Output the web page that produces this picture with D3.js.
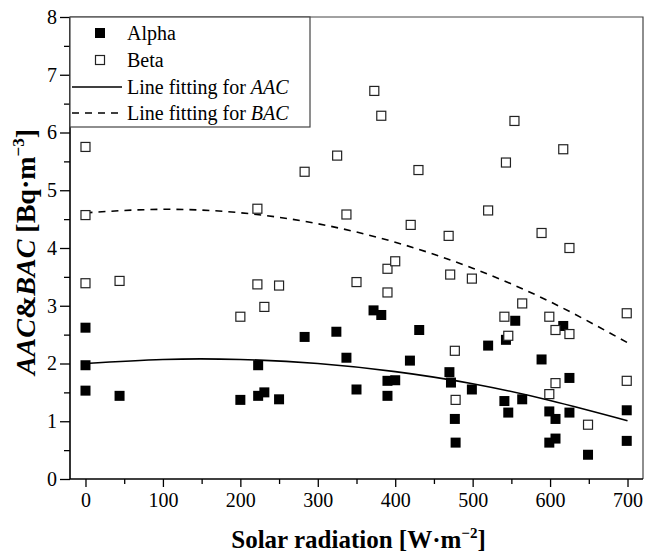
<!DOCTYPE html>
<html>
<head>
<meta charset="utf-8">
<script src="https://cdn.jsdelivr.net/npm/d3@7"></script>
<style>
  body { margin: 0; background: #fff; }
</style>
</head>
<body>
<div id="chart"></div>
<script>
/* DATA */
const alphaX = [0, 0, 0, 44, 200, 223, 223, 231, 250, 283, 324, 337, 350, 372, 382, 390, 400, 390, 419, 431,
  470, 472, 477, 478, 499, 520, 541, 543, 546, 555, 564, 589, 599, 599, 607, 607, 617, 625, 625, 649, 699, 699];
const alphaY = [2.62, 1.97, 1.53, 1.44, 1.37, 1.97, 1.44, 1.50, 1.38, 2.46, 2.55, 2.10, 1.55, 2.92, 2.84, 1.70, 1.71, 1.44, 2.05, 2.58,
  1.85, 1.67, 1.04, 0.63, 1.55, 2.31, 1.35, 2.41, 1.15, 2.74, 1.38, 2.07, 1.17, 0.63, 1.04, 0.70, 2.65, 1.75, 1.15, 0.42, 1.19, 0.66];

const betaX = [0, 0, 0, 44, 200, 222, 222, 231, 250, 283, 325, 337, 350, 373, 382, 390, 390, 400, 420, 430,
  469, 471, 477, 478, 499, 520, 541, 543, 546, 554, 564, 589, 599, 599, 607, 607, 617, 625, 625, 649, 699, 699];
const betaY = [5.75, 4.57, 3.39, 3.43, 2.81, 4.68, 3.37, 2.98, 3.35, 5.32, 5.60, 4.58, 3.41, 6.72, 6.29, 3.64, 3.23, 3.77, 4.40, 5.35,
  4.21, 3.54, 2.22, 1.37, 3.47, 4.65, 2.81, 5.48, 2.48, 6.20, 3.04, 4.26, 2.81, 1.47, 2.58, 1.66, 5.71, 4.00, 2.51, 0.94, 2.87, 1.70];

// fitted curves, every 100 W/m2
const fitX = [0, 100, 200, 300, 400, 500, 600, 700];
const fitAAC = [2.00, 2.07, 2.07, 2.00, 1.86, 1.65, 1.36, 1.01];
const fitBAC = [4.61, 4.67, 4.61, 4.42, 4.10, 3.65, 3.07, 2.36];

const xTicks = [0, 100, 200, 300, 400, 500, 600, 700];
const yTicks = [0, 1, 2, 3, 4, 5, 6, 7, 8];
const legendItems = ["Alpha", "Beta", "Line fitting for ", "Line fitting for "];
const legendItalic = ["", "", "AAC", "BAC"];

const FONT = "'Liberation Serif', 'Times New Roman', Times, 'DejaVu Serif', serif";

/* LAYOUT */
const width = 646, height = 554;
const margin = { top: 17, right: 3, bottom: 75, left: 70 };

const svg = d3.select("#chart").append("svg")
  .attr("width", width)
  .attr("height", height)
  .attr("font-family", FONT);

const xScale = d3.scaleLinear()
  .domain([-20, 720])
  .range([margin.left, width - margin.right]);

const yScale = d3.scaleLinear()
  .domain([0, 8])
  .range([479, margin.top]);

const x0 = margin.left, x1 = width - margin.right;
const yb = yScale(0), yt = yScale(8);

// frame top / right
svg.append("path")
  .attr("d", `M${x0},${yt}H${x1}V${yb}`)
  .attr("fill", "none")
  .attr("stroke", "#444")
  .attr("stroke-width", 1.2);

// axes
const xAxis = d3.axisBottom(xScale).tickValues(xTicks).tickSize(8).tickPadding(6).tickFormat(d3.format("d"));
const xMinor = d3.axisBottom(xScale).tickValues(d3.range(50, 750, 100)).tickSize(5).tickFormat("");
const yAxis = d3.axisLeft(yScale).tickValues(yTicks).tickSize(10).tickPadding(3);
const yMinor = d3.axisLeft(yScale).tickValues(d3.range(0.5, 8, 1)).tickSize(6).tickFormat("");

function styleAxis(g) {
  g.attr("font-family", FONT);
  g.select(".domain").remove();
  g.selectAll("line").attr("stroke", "#000").attr("stroke-width", 1.3);
  g.selectAll("text").attr("font-size", 20).attr("fill", "#000").attr("font-family", FONT);
}

svg.append("g").attr("transform", `translate(0,${yb})`).call(xAxis).call(styleAxis);
svg.append("g").attr("transform", `translate(0,${yb})`).call(xMinor).call(styleAxis);
svg.append("g").attr("transform", `translate(${x0},0)`).call(yAxis).call(styleAxis);
svg.append("g").attr("transform", `translate(${x0},0)`).call(yMinor).call(styleAxis);

svg.append("line").attr("x1", x0).attr("x2", x1).attr("y1", yb).attr("y2", yb)
  .attr("stroke", "#000").attr("stroke-width", 1.6);
svg.append("line").attr("x1", x0).attr("x2", x0).attr("y1", yt).attr("y2", yb)
  .attr("stroke", "#000").attr("stroke-width", 1.6);

// fit lines
const line = d3.line()
  .x((d, i) => xScale(fitX[i]))
  .y(d => yScale(d))
  .curve(d3.curveNatural);

svg.append("path").datum(fitAAC)
  .attr("d", line).attr("fill", "none").attr("stroke", "#000").attr("stroke-width", 1.6);
svg.append("path").datum(fitBAC)
  .attr("d", line).attr("fill", "none").attr("stroke", "#000").attr("stroke-width", 1.6)
  .attr("stroke-dasharray", "7,6");

// markers
const s = 10;
svg.selectAll("rect.alpha")
  .data(alphaX.map((x, i) => [x, alphaY[i]]))
  .join("rect")
  .attr("class", "alpha")
  .attr("x", d => xScale(d[0]) - s / 2)
  .attr("y", d => yScale(d[1]) - s / 2)
  .attr("width", s).attr("height", s)
  .attr("fill", "#000");

svg.selectAll("rect.beta")
  .data(betaX.map((x, i) => [x, betaY[i]]))
  .join("rect")
  .attr("class", "beta")
  .attr("x", d => xScale(d[0]) - (s - 1) / 2)
  .attr("y", d => yScale(d[1]) - (s - 1) / 2)
  .attr("width", s - 1).attr("height", s - 1)
  .attr("fill", "#fff")
  .attr("stroke", "#222")
  .attr("stroke-width", 1.2);

// legend
const lg = svg.append("g");
lg.append("rect")
  .attr("x", x0).attr("y", yt)
  .attr("width", 240).attr("height", 110)
  .attr("fill", "#fff").attr("stroke", "#444").attr("stroke-width", 1.2);

const rowY = [33, 60, 87, 113];
lg.append("rect").attr("x", 100 - 5).attr("y", rowY[0] - 5).attr("width", 10).attr("height", 10).attr("fill", "#000");
lg.append("rect").attr("x", 100 - 4.5).attr("y", rowY[1] - 4.5).attr("width", 9).attr("height", 9)
  .attr("fill", "#fff").attr("stroke", "#222").attr("stroke-width", 1.2);
lg.append("line").attr("x1", 72).attr("x2", 122).attr("y1", rowY[2]).attr("y2", rowY[2])
  .attr("stroke", "#000").attr("stroke-width", 1.6);
lg.append("line").attr("x1", 72).attr("x2", 122).attr("y1", rowY[3]).attr("y2", rowY[3])
  .attr("stroke", "#000").attr("stroke-width", 1.6).attr("stroke-dasharray", "7,6");

legendItems.forEach((t, i) => {
  const tx = lg.append("text")
    .attr("x", 127).attr("y", rowY[i]).attr("dy", "0.35em")
    .attr("font-size", 20).attr("fill", "#000");
  tx.append("tspan").text(t);
  if (legendItalic[i]) tx.append("tspan").attr("font-style", "italic").text(legendItalic[i]);
});

// axis titles
const xt = svg.append("text")
  .attr("x", (xScale(-20) + xScale(720)) / 2 + 2).attr("y", 548)
  .attr("text-anchor", "middle")
  .attr("font-size", 25).attr("font-weight", "bold");
xt.append("tspan").text("Solar radiation [W\u00b7m");
xt.append("tspan").attr("dy", -10).attr("font-size", 15).text("\u22122");
xt.append("tspan").attr("dy", 10).text("]");

const yt2 = svg.append("text")
  .attr("transform", `translate(35,252) rotate(-90)`)
  .attr("text-anchor", "middle")
  .attr("font-size", 28).attr("font-weight", "bold");
yt2.append("tspan").attr("font-style", "italic").text("AAC");
yt2.append("tspan").text("&");
yt2.append("tspan").attr("font-style", "italic").text("BAC");
yt2.append("tspan").text(" [Bq\u00b7m");
yt2.append("tspan").attr("dy", -11).attr("font-size", 17).text("\u22123");
yt2.append("tspan").attr("dy", 11).text("]");
</script>
</body>
</html>
